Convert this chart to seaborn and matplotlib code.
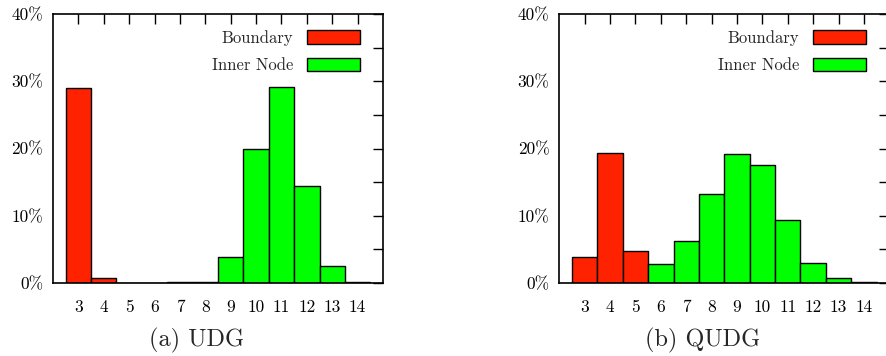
import matplotlib
matplotlib.use("Agg")
import matplotlib.pyplot as plt
from matplotlib.patches import Patch
import pandas as pd
import seaborn as sns

# Node degree distribution (percent of nodes) for two graph models
degrees = list(range(3, 15))

udg_pct = [29.0, 0.7, 0.0, 0.0, 0.1, 0.1, 3.9, 19.9, 29.1, 14.4, 2.6, 0.2]
udg_kind = ["Boundary", "Boundary", "Inner Node", "Inner Node", "Inner Node", "Inner Node",
            "Inner Node", "Inner Node", "Inner Node", "Inner Node", "Inner Node", "Inner Node"]

qudg_pct = [3.9, 19.4, 4.8, 2.8, 6.3, 13.3, 19.2, 17.5, 9.3, 3.0, 0.7, 0.2]
qudg_kind = ["Boundary", "Boundary", "Boundary", "Inner Node", "Inner Node", "Inner Node",
             "Inner Node", "Inner Node", "Inner Node", "Inner Node", "Inner Node", "Inner Node"]

kinds = ["Boundary", "Inner Node"]
colors = {"Boundary": "#ff2200", "Inner Node": "#00ff00"}
y_ticks = [0, 5, 10, 15, 20, 25, 30, 35, 40]
y_labels = ["0%", "", "10%", "", "20%", "", "30%", "", "40%"]
captions = ["(a) UDG", "(b) QUDG"]

sns.set_style("white")
plt.rcParams["font.family"] = ["cmr10", "DejaVu Serif"]
plt.rcParams["axes.unicode_minus"] = False

fig = plt.figure(figsize=(8.86, 3.56), dpi=100)
W, H = 886.0, 356.0
panels = [(53.0, udg_pct, udg_kind), (559.3, qudg_pct, qudg_kind)]
caption_x = [197.0, 703.0]

for (x0, pct, kind), cap, cx in zip(panels, captions, caption_x):
    ax = fig.add_axes([x0 / W, (H - 283.0) / H, 330.0 / W, 269.0 / H])
    df = pd.DataFrame({"degree": degrees, "pct": pct, "kind": kind})
    sns.barplot(data=df, x="degree", y="pct", hue="kind", hue_order=kinds,
                palette=colors, saturation=1, native_scale=True, width=1.0, dodge=False,
                edgecolor="black", linewidth=1.0, legend=False, ax=ax)
    ax.set_xlim(2, 15)
    ax.set_ylim(0, 40)
    ax.set_xticks(degrees)
    ax.set_xticklabels([str(d) for d in degrees])
    ax.set_yticks(y_ticks)
    ax.set_yticklabels(y_labels)
    ax.set_xlabel("")
    ax.set_ylabel("")
    for s in ax.spines.values():
        s.set_visible(True)
        s.set_linewidth(1.2)
        s.set_color("black")
    ax.tick_params(axis="both", which="major", direction="in", length=7, width=1.0,
                   top=True, right=True, labelsize=12.5, colors="black")
    ax.tick_params(axis="x", pad=12)
    ax.tick_params(axis="y", pad=7)
    handles = [Patch(facecolor=colors[k], edgecolor="black", linewidth=1.0, label=k) for k in kinds]
    ax.legend(handles=handles, loc="upper right", frameon=False, markerfirst=False,
              fontsize=12, handlelength=3.2, handleheight=0.85, labelspacing=0.7,
              handletextpad=0.8, borderaxespad=0.0, bbox_to_anchor=(0.95, 0.965))
    fig.text(cx / W, (H - 340.0) / H, cap, ha="center", va="center", fontsize=17.5)

fig.savefig("out.png", dpi=100)
